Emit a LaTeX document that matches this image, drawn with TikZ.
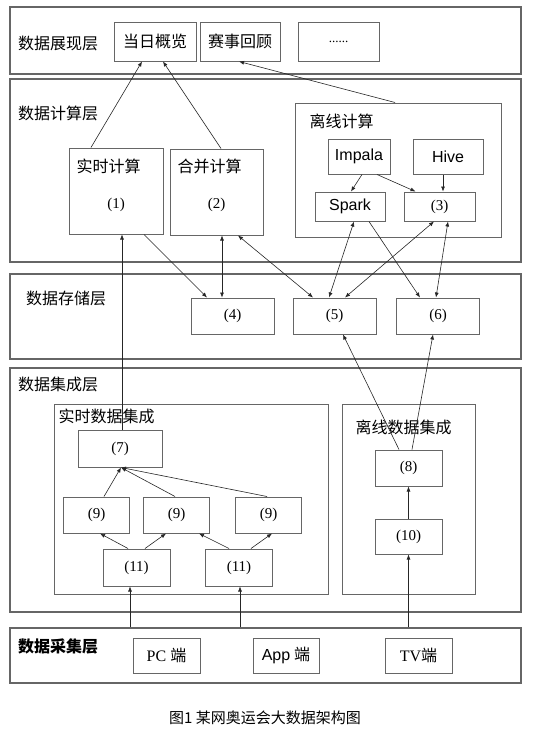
\documentclass[tikz,border=0pt]{standalone}
\usepackage{fontspec}
\setmainfont{Liberation Serif}
\newfontfamily\cjk{Noto Sans CJK SC}
\newfontfamily\arial{Liberation Sans}
\usetikzlibrary{arrows.meta, positioning}
\tikzset{headarrow/.style = {-{Latex[length=5pt, width=4pt]}, draw=black!85, line width=.6pt},
         twoheads/.style = {{Latex[length=5pt, width=4pt]}-{Latex[length=5pt, width=4pt]},
                            draw=black!85, line width=.6pt},
         layerbox/.style = {draw=black!60, line width=1.1pt, inner sep=0pt},
         cell/.style = {draw=black!60, line width=1pt, inner sep=0pt,
                        font=\fontsize{16}{19}\selectfont},
         title/.style = {inner sep=0pt, font=\cjk\fontsize{16}{19}\selectfont},
         num/.style = {inner sep=0pt, font=\fontsize{15}{18}\selectfont}}

\begin{document}
\begin{tikzpicture}[x=1pt, y=-1pt]
    \useasboundingbox (0,0) rectangle (543,736);

    % layers
    \foreach \Name/\Y/\H in {%
        show/40.5/67pt,
        calc/170.5/183pt,
        store/316.5/85pt,
        integ/490/244pt,
        acq/655.5/55pt%
        }
        \node[layerbox, minimum width=511pt, minimum height=\H] (\Name) at (265.5,\Y) {};

    \node[title, anchor=west] (show-t) at (18,43) {数据展现层};
    \node[title, anchor=west] (calc-t) at (18,113) {数据计算层};
    \node[title, anchor=west] (store-t) at (26,298) {数据存储层};
    \node[title, anchor=west] (integ-t) at (18,384) {数据集成层};
    \node[title, anchor=west, font=\cjk\bfseries\fontsize{16}{19}\selectfont] (acq-t) at (18,646) {数据采集层};

    % display
    \node[cell, minimum width=82pt, minimum height=39pt] (day) at (155,41.5) {\cjk 当日概览};
    \node[cell, minimum width=80pt, minimum height=39pt] (rev) at (240,41.5) {\cjk 赛事回顾};
    \node[cell, minimum width=81pt, minimum height=39pt, font=\fontsize{13}{14}\selectfont] (more) at (338.5,41.5) {......};

    % compute
    \node[cell, minimum width=94pt, minimum height=86pt] (rt) at (116,191) {};
    \node[title, anchor=west] (rt-t) at ([xshift=8pt, yshift=-19pt]rt.north west) {实时计算};
    \node[num] (rt-n) at ([yshift=-14pt]rt.center) {(1)};
    \node[cell, minimum width=93pt, minimum height=86pt] (mg) at (216.5,192) {};
    \node[title, anchor=west] (mg-t) at ([xshift=8pt, yshift=-18pt]mg.north west) {合并计算};
    \node[num] (mg-n) at ([yshift=-13pt]mg.center) {(2)};
    \node[cell, minimum width=206pt, minimum height=134pt] (off) at (398,170) {};
    \node[title, anchor=west] (off-t) at ([xshift=15pt, yshift=-19pt]off.north west) {离线计算};
    \node[cell, minimum width=62pt, minimum height=35pt, font=\arial\fontsize{16}{19}\selectfont] (imp) at (359,156.5) {Impala};
    \node[cell, minimum width=70pt, minimum height=35pt, font=\arial\fontsize{16}{19}\selectfont] (hive) at (448,156.5) {Hive};
    \node[cell, minimum width=70pt, minimum height=29pt, font=\arial\fontsize{16}{19}\selectfont] (spark) at (350,206.5) {Spark};
    \node[cell, minimum width=71pt, minimum height=29pt, font=\fontsize{15}{18}\selectfont] (c3) at (439.5,206.5) {(3)};

    % storage
    \foreach \Name/\X/\Label in {s4/232.5/4, s5/334.5/5, s6/438/6}
        \node[cell, minimum width=83pt, minimum height=36pt, font=\fontsize{15}{18}\selectfont] (\Name) at (\X,316) {(\Label)};

    % integration
    \node[cell, minimum width=274pt, minimum height=190pt] (rtin) at (191,499) {};
    \node[title, anchor=west] (rtin-t) at ([xshift=5pt, yshift=-13pt]rtin.north west) {实时数据集成};
    \node[cell, minimum width=84pt, minimum height=37pt, font=\fontsize{15}{18}\selectfont] (c7) at (120,448.5) {(7)};
    \foreach \Name/\X in {n9a/96.5, n9b/176.5, n9c/268.5}
        \node[cell, minimum width=66pt, minimum height=36pt, font=\fontsize{15}{18}\selectfont] (\Name) at (\X,515) {(9)};
    \foreach \Name/\X in {n11a/136.5, n11b/239}
        \node[cell, minimum width=67pt, minimum height=37pt, font=\fontsize{15}{18}\selectfont] (\Name) at (\X,567.5) {(11)};
    \node[cell, minimum width=133pt, minimum height=190pt] (offin) at (408.5,499) {};
    \node[title, anchor=west] (offin-t) at ([xshift=14pt, yshift=-24pt]offin.north west) {离线数据集成};
    \node[cell, minimum width=67pt, minimum height=36pt, font=\fontsize{15}{18}\selectfont] (c8) at (408.5,468) {(8)};
    \node[cell, minimum width=67pt, minimum height=35pt, font=\fontsize{15}{18}\selectfont] (c10) at (408.5,536.5) {(10)};

    % acquisition
    \node[cell, minimum width=67pt, minimum height=35pt] (pc) at (166.5,655.5) {PC {\cjk 端}};
    \node[cell, minimum width=66pt, minimum height=35pt] (app) at (286,655.5) {{\arial App} {\cjk 端}};
    \node[cell, minimum width=67pt, minimum height=35pt] (tv) at (418.5,655.5) {TV{\cjk 端}};

    \node[inner sep=0pt, font=\cjk\fontsize{15}{18}\selectfont] (caption) at (265,718) {图1 某网奥运会大数据架构图};

    % connectors
    \draw[headarrow] ([xshift=-25pt]rt.north) -- ([xshift=-13pt]day.south);
    \draw[headarrow] ([xshift=4.5pt]mg.north) -- ([xshift=8pt]day.south);
    \draw[headarrow] ([xshift=-3pt]off.north) -- ([xshift=-1pt]rev.south);
    \draw[headarrow] ([xshift=3pt]imp.south) -- ([xshift=1pt]spark.north);
    \draw[headarrow] ([xshift=18pt]imp.south) -- ([xshift=-24pt]c3.north);
    \draw[headarrow] ([xshift=-5pt]hive.south) -- ([xshift=3.5pt]c3.north);

    \draw[headarrow] ([xshift=2pt]c7.north) -- ([xshift=6pt]rt.south);
    \draw[headarrow] ([xshift=28pt]rt.south) -- ([xshift=-25.5pt]s4.north);
    \draw[twoheads] ([xshift=5.5pt]mg.south) -- ([xshift=-10.5pt]s4.north);
    \draw[twoheads] ([xshift=21.5pt]mg.south) -- ([xshift=-21.5pt]s5.north);
    \draw[twoheads] ([xshift=4pt]spark.south) -- ([xshift=-5.5pt]s5.north);
    \draw[twoheads] ([xshift=-5.5pt]c3.south) -- ([xshift=10.5pt]s5.north);
    \draw[headarrow] ([xshift=19pt]spark.south) -- ([xshift=-18pt]s6.north);
    \draw[twoheads] ([xshift=8.5pt]c3.south) -- ([xshift=-2pt]s6.north);
    \draw[headarrow] ([xshift=-9.5pt]c8.north) -- ([xshift=8.5pt]s5.south);
    \draw[headarrow] ([xshift=3.5pt]c8.north) -- ([xshift=-5pt]s6.south);

    \foreach \Source/\Dx in {n9a/7.5pt, n9b/-1.5pt, n9c/-1.5pt}
        \draw[headarrow] ([xshift=\Dx]\Source.north) -- ([xshift=1pt]c7.south);
    \foreach \Source/\Dx/\Target/\Ex in {%
        n11a/-8.5pt/n9a/3.5pt,
        n11a/8.5pt/n9b/-10.5pt,
        n11b/-10pt/n9b/22.5pt,
        n11b/12pt/n9c/3.5pt%
        }
        \draw[headarrow] ([xshift=\Dx]\Source.north) -- ([xshift=\Ex]\Target.south);
    \draw[headarrow] (c10.north) -- (c8.south);

    \foreach \Target/\Dx in {n11a/-6.5pt, n11b/1pt, c10/0pt}
        \draw[headarrow] ([xshift=\Dx]\Target.south |- acq.north) -- ([xshift=\Dx]\Target.south);
\end{tikzpicture}
\end{document}
